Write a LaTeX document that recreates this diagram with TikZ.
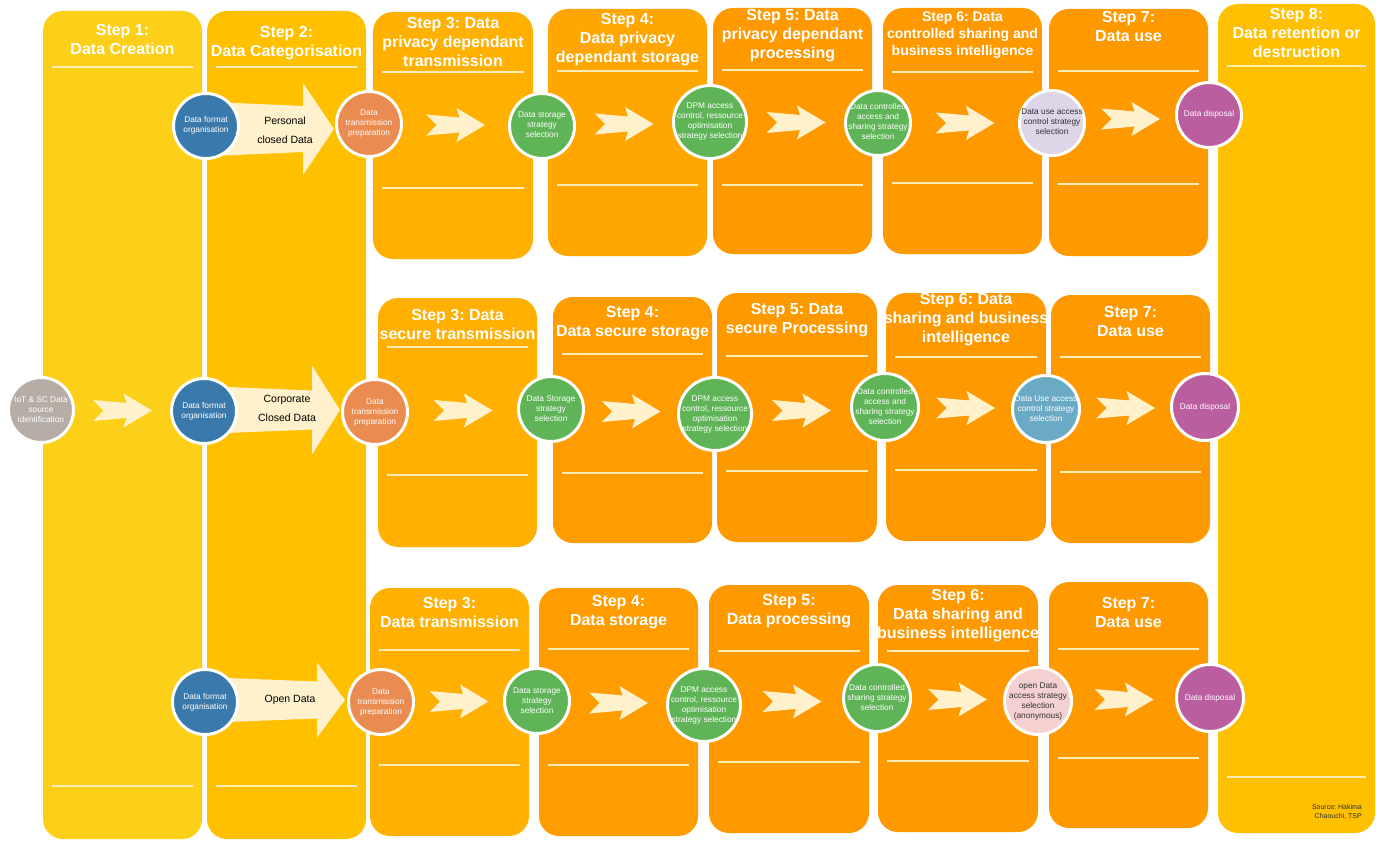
\documentclass[tikz,border=0pt]{standalone}
\usepackage{fontspec}
\setmainfont{Liberation Sans}
\usetikzlibrary{calc}
\frenchspacing

\definecolor{stepA}{HTML}{FCCF18}
\definecolor{stepB}{HTML}{FFC000}
\definecolor{stepC}{HTML}{FFB000}
\definecolor{stepD}{HTML}{FFA600}
\definecolor{stepE}{HTML}{FF9D00}
\definecolor{stepF}{HTML}{FF9900}
\definecolor{cream}{HTML}{FFF1CB}
\definecolor{rulecol}{HTML}{FFEDB5}
\definecolor{cblue}{HTML}{3A79AB}
\definecolor{corange}{HTML}{EA8B52}
\definecolor{cgreen}{HTML}{5EB457}
\definecolor{clav}{HTML}{DED5E9}
\definecolor{cpurple}{HTML}{BB5EA0}
\definecolor{cgray}{HTML}{B6ADA6}
\definecolor{cteal}{HTML}{6AAAC5}
\definecolor{cpink}{HTML}{F5D0D0}
\definecolor{darktext}{HTML}{333333}

\pgfdeclarelayer{boxes}
\pgfdeclarelayer{arrows}
\pgfsetlayers{boxes,arrows,main}

\newcommand{\ttlbig}{\bfseries\fontsize{16}{19}\selectfont}
\newcommand{\ttlsmall}{\bfseries\fontsize{14}{17}\selectfont}
% centred block of lines that may overflow the circle
\newcommand{\cbox}[1]{\makebox[0pt]{\begin{tabular}{@{}c@{}}#1\end{tabular}}}

% category block arrow: tip, length, head length, head half-height, body half-height
\newcommand{\catarrow}[5]{%
  \begin{scope}[shift={(#1)}]
    \fill[cream] (-#2,-#5) -- (-#3,{-#5+4}) -- (-#3,-#4) -- (0,0)
      -- (-#3,#4) -- (-#3,{#5-4}) -- (-#2,#5) -- cycle;
  \end{scope}}

\tikzset{
  stagecircle/.style={circle, draw=white, line width=3pt, inner sep=0pt,
    minimum size=65pt, font=\fontsize{8.3}{10}\selectfont, text=white},
  circwide/.style={minimum size=73pt},
  circmid/.style={minimum size=67pt},
  steptitle/.style={text=white, align=center, inner sep=0pt},
  steprule/.style={draw=rulecol, line width=1.4pt},
  catlabel/.style={align=center, font=\fontsize{10.5}{19}\selectfont, text=black},
  chevron/.pic={\fill[cream] (-29.5,-10.5) -- (4,-7.5) -- (1,-17) -- (29.5,0)
      -- (1,17) -- (4,7.5) -- (-29.5,10.5) -- (-19,0) -- cycle;}
}

\begin{document}
\begin{tikzpicture}[x=1pt, y=-1pt]
\useasboundingbox (0,0) rectangle (1376,845);

% ---------- step columns ----------
\begin{pgfonlayer}{boxes}
\fill[white] (0,0) rectangle (1376,845);
\foreach \nm/\xa/\ya/\xb/\yb/\col/\ty/\tf/\uy/\ly/\txt in {
  s1/43/11/202/839/stepA/39.5/big/67/786/{Step 1:\\Data Creation},
  s2/207/11/366/839/stepB/43/big/67/786/{Step 2:\\Data Categorisation},
  s3a/373/12/533/259/stepC/42/big/72/188/{Step 3: Data\\privacy dependant\\transmission},
  s4a/548/9/707/256/stepD/40/big/71/185/{Step 4:\\Data privacy\\dependant storage},
  s5a/713/8/872/254/stepF/36/big/70/185/{Step 5: Data\\privacy dependant\\processing},
  s6a/883/8/1042/254/stepF/35/small/72/183/{Step 6: Data\\controlled sharing and\\business intelligence},
  s7a/1049/9/1208/256/stepF/26.5/big/71/184/{Step 7:\\Data use},
  s3b/378/298/537/547/stepC/324/big/347/475/{Step 3: Data\\secure transmission},
  s4b/553/297/712/543/stepE/323/big/354/473/{Step 4:\\Data secure storage},
  s5b/717/293/877/542/stepF/320.5/big/356/471/{Step 5: Data\\secure Processing},
  s6b/886/293/1046/541/stepF/320/big/357/470/{Step 6: Data\\sharing and business\\intelligence},
  s7b/1051/295/1210/543/stepF/321.5/big/357/472/{Step 7:\\Data use},
  s3c/370/588/529/836/stepC/612.5/big/650/765/{Step 3:\\Data transmission},
  s4c/539/588/698/836/stepE/612.5/big/649/765/{Step 4:\\Data storage},
  s5c/709/585/869/833/stepF/611/big/651/762/{Step 5:\\Data processing},
  s6c/878/585/1038/832/stepF/615.5/big/651/761/{Step 6:\\Data sharing and\\business intelligence},
  s7c/1049/582/1208/828/stepF/612/big/649/758/{Step 7:\\Data use},
  s8/1218/4/1375/833/stepB/33/big/66/777/{Step 8:\\Data retention or\\destruction}%
}{
  \fill[fill=\col, rounded corners=20pt] (\xa,\ya) rectangle (\xb,\yb);
  \begin{scope}
    \clip[rounded corners=20pt] (\xa,\ya) rectangle (\xb,\yb);
    \node[steptitle, font=\csname ttl\tf\endcsname] (\nm) at ({(\xa+\xb)/2},\ty) {\txt};
  \end{scope}
  \draw[steprule] ({\xa+9},\uy) -- ({\xb-9},\uy);
  \draw[steprule] ({\xa+9},\ly) -- ({\xb-9},\ly);
}
\end{pgfonlayer}

% ---------- row 1: personal closed data ----------
\node[stagecircle, fill=cblue] (fa1) at (206,126) {\cbox{Data format\\organisation}};
\node[stagecircle, fill=corange] (prep1) at (369,124) {\cbox{Data\\transmission\\preparation}};
\node[stagecircle, fill=cgreen] (sto1) at (542,126) {\cbox{Data storage\\strategy\\selection}};
\node[stagecircle, circwide, fill=cgreen] (dpm1) at (710,122) {\cbox{DPM access\\control, ressource\\optimisation\\strategy selection}};
\node[stagecircle, fill=cgreen] (ctl1) at (878,123) {\cbox{Data controlled\\access and\\sharing strategy\\selection}};
\node[stagecircle, fill=clav, text=darktext] (use1) at (1052,123) {\cbox{Data use access\\control strategy\\selection}};
\node[stagecircle, fill=cpurple] (disp1) at (1209,115) {\cbox{Data disposal}};

% ---------- row 2: corporate closed data ----------
\node[stagecircle, fill=cgray] (src) at (41,410) {\cbox{IoT \& SC Data\\source\\identification}};
\node[stagecircle, fill=cblue] (fa2) at (204,411) {\cbox{Data format\\organisation}};
\node[stagecircle, fill=corange] (prep2) at (375,412) {\cbox{Data\\transmission\\preparation}};
\node[stagecircle, fill=cgreen] (sto2) at (551,409) {\cbox{Data Storage\\strategy\\selection}};
\node[stagecircle, circwide, fill=cgreen] (dpm2) at (715,414) {\cbox{DPM access\\control, ressource\\optimisation\\strategy selection}};
\node[stagecircle, circmid, fill=cgreen] (ctl2) at (885,407) {\cbox{Data controlled\\access and\\sharing strategy\\selection}};
\node[stagecircle, circmid, fill=cteal] (use2) at (1046,409) {\cbox{Data Use access\\control strategy\\selection}};
\node[stagecircle, circmid, fill=cpurple] (disp2) at (1205,407) {\cbox{Data disposal}};

% ---------- row 3: open data ----------
\node[stagecircle, fill=cblue] (fa3) at (205,702) {\cbox{Data format\\organisation}};
\node[stagecircle, fill=corange] (prep3) at (381,702) {\cbox{Data\\transmission\\preparation}};
\node[stagecircle, fill=cgreen] (sto3) at (537,701) {\cbox{Data storage\\strategy\\selection}};
\node[stagecircle, circwide, fill=cgreen] (dpm3) at (704,705) {\cbox{DPM access\\control, ressource\\optimisation\\strategy selection}};
\node[stagecircle, circmid, fill=cgreen] (ctl3) at (877,698) {\cbox{Data controlled\\sharing strategy\\selection}};
\node[stagecircle, circmid, fill=cpink, text=darktext] (open3) at (1038,701) {\cbox{open Data\\access strategy\\selection\\(anonymous)}};
\node[stagecircle, circmid, fill=cpurple] (disp3) at (1210,698) {\cbox{Data disposal}};

% ---------- category arrows ----------
\coordinate (tip1) at ($(prep1.west)+(-1,5)$);
\coordinate (tip2) at ($(prep2.west)+(-1,-2)$);
\coordinate (tip3) at ($(prep3.west)+(-2,-2)$);
\begin{pgfonlayer}{arrows}
  \catarrow{tip1}{120}{31}{46}{27}
  \catarrow{tip2}{125}{28}{44.5}{23.5}
  \catarrow{tip3}{130}{28}{37.5}{22.5}
\end{pgfonlayer}
\node[catlabel] (lab1) at (285,130.5) {Personal\\closed Data};
\node[catlabel] (lab2) at (287,408.5) {Corporate\\Closed Data};
\node[catlabel] (lab3) at (290,700) {Open Data};

% ---------- chevrons between stages ----------
\foreach \a/\b in {prep1/sto1, sto1/dpm1, dpm1/ctl1, ctl1/use1, use1/disp1,
                   src/fa2, prep2/sto2, sto2/dpm2, dpm2/ctl2, ctl2/use2, use2/disp2,
                   prep3/sto3, sto3/dpm3, dpm3/ctl3, ctl3/open3, open3/disp3}
  \pic at ($(\a.east)!0.5!(\b.west)$) {chevron};

% ---------- source note ----------
\node[align=right, anchor=east, inner sep=0pt, font=\fontsize{7}{9}\selectfont,
      text=darktext] (source) at (1362,812) {Source: Hakima\\Chaouchi, TSP};
\end{tikzpicture}
\end{document}
